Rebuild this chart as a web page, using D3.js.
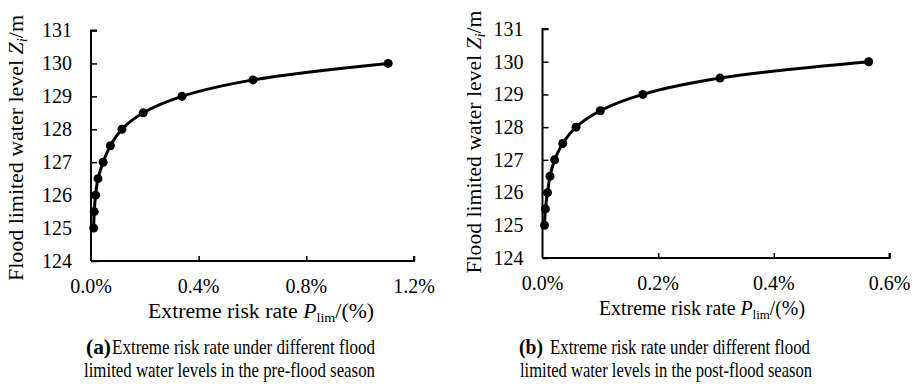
<!DOCTYPE html>
<html>
<head>
<meta charset="utf-8">
<script src="https://cdn.jsdelivr.net/npm/d3@7"></script>
</head>
<body style="margin:0; background:#fff">
<svg id="chart" width="918" height="384"></svg>
<script>
// flood limited water level (m)
const levels = [125, 125.5, 126, 126.5, 127, 127.5, 128, 128.5, 129, 129.5, 130];
// extreme risk rate, in %
const preRisk = [0.010, 0.012, 0.017, 0.026, 0.045, 0.072, 0.115, 0.194, 0.338, 0.602, 1.104];
const postRisk = [0.0035, 0.005, 0.0087, 0.013, 0.021, 0.035, 0.058, 0.100, 0.1735, 0.307, 0.564];
const yTicks = [124, 125, 126, 127, 128, 129, 130, 131];
const preTicks = [0, 0.4, 0.8, 1.2];
const postTicks = [0, 0.2, 0.4, 0.6];

const FONT = "Liberation Serif";

const panels = [
  { risk: preRisk, ticks: preTicks, x0: 91, x1: 414, y0: 261, y1: 30.5,
    yTitleX: 16, yTitleY: 148, yTitleLen: 266,
    xTitleX: 261, xTitleLen: 226, xTitleText: "Extreme risk rate  ",
    tag: "(a)", tagX: 86, tagLen: 25,
    cap1: "Extreme risk rate under different flood", cap1X: 112, cap1Len: 263,
    cap2: "limited water levels in the pre-flood season", cap2X: 84, cap2Len: 291 },
  { risk: postRisk, ticks: postTicks, x0: 542.5, x1: 889.5, y0: 258, y1: 29,
    yTitleX: 474, yTitleY: 142, yTitleLen: 263,
    xTitleX: 702, xTitleLen: 206, xTitleText: "Extreme risk rate ",
    tag: "(b)", tagX: 519, tagLen: 24,
    cap1: "Extreme risk rate under different flood", cap1X: 550, cap1Len: 260,
    cap2: "limited water levels in the post-flood season", cap2X: 520, cap2Len: 292 }
];

const svg = d3.select("#chart");

panels.forEach(p => {
  const data = levels.map((lv, i) => ({ level: lv, risk: p.risk[i] }));
  const x = d3.scaleLinear().domain([0, d3.max(p.ticks)]).range([p.x0, p.x1]);
  const y = d3.scaleLinear().domain([124, 131]).range([p.y0, p.y1]);
  const g = svg.append("g");

  // y axis, ticks pointing inside
  const ya = g.append("g")
    .attr("transform", `translate(${p.x0},0)`)
    .call(d3.axisRight(y).tickValues(yTicks).tickSize(6).tickFormat(""));
  ya.select(".domain").attr("stroke", "#000").attr("stroke-width", 2).attr("d", `M6,${p.y1}H0V${p.y0}`);
  ya.selectAll(".tick line").attr("stroke", "#000").attr("stroke-width", 1.5);
  g.append("g").selectAll("text").data(yTicks).join("text")
    .attr("font-family", FONT)
    .attr("x", p.x0 - 19).attr("y", d => y(d)).attr("dy", "0.34em")
    .attr("text-anchor", "end").attr("font-size", 20).text(d => d);

  // x axis, ticks pointing up
  const xa = g.append("g")
    .attr("transform", `translate(0,${p.y0})`)
    .call(d3.axisTop(x).tickValues(p.ticks.slice(1)).tickSize(5).tickFormat(""));
  xa.select(".domain").attr("stroke", "#000").attr("stroke-width", 2).attr("d", `M${p.x0},0H${p.x1}V-5`);
  xa.selectAll(".tick line").attr("stroke", "#000").attr("stroke-width", 1.5);
  g.append("g").selectAll("text").data(p.ticks).join("text")
    .attr("font-family", FONT)
    .attr("x", d => x(d)).attr("y", p.y0 + 32)
    .attr("text-anchor", "middle").attr("font-size", 20)
    .text(d => d3.format(".1f")(d) + "%");

  // curve and markers
  const line = d3.line().x(d => x(d.risk)).y(d => y(d.level)).curve(d3.curveCatmullRom.alpha(0.5));
  g.append("path").datum(data).attr("d", line)
    .attr("fill", "none").attr("stroke", "#000").attr("stroke-width", 3);
  g.selectAll("circle").data(data).join("circle")
    .attr("cx", d => x(d.risk)).attr("cy", d => y(d.level)).attr("r", 4.5).attr("fill", "#000");

  // y title
  const yt = g.append("text")
    .attr("font-family", FONT)
    .attr("transform", `translate(${p.yTitleX + 7},${p.yTitleY}) rotate(-90)`)
    .attr("text-anchor", "middle").attr("font-size", 21)
    .attr("textLength", p.yTitleLen).attr("lengthAdjust", "spacingAndGlyphs");
  yt.append("tspan").text("Flood limited water level ");
  yt.append("tspan").attr("font-style", "italic").text("Z");
  yt.append("tspan").attr("font-style", "italic").attr("font-size", 14).attr("dy", 4).text("i");
  yt.append("tspan").attr("dy", -4).text("/m");

  // x title
  const xt = g.append("text")
    .attr("font-family", FONT)
    .attr("x", p.xTitleX).attr("y", p.y0 + 57)
    .attr("text-anchor", "middle").attr("font-size", 20)
    .attr("textLength", p.xTitleLen).attr("lengthAdjust", "spacingAndGlyphs");
  xt.append("tspan").text(p.xTitleText);
  xt.append("tspan").attr("font-style", "italic").text("P");
  xt.append("tspan").attr("font-size", 13).attr("dy", 4).text("lim");
  xt.append("tspan").attr("dy", -4).text("/(%)");

  // caption, two lines
  g.append("text")
    .attr("font-family", FONT).attr("font-weight", "bold")
    .attr("x", p.tagX).attr("y", 354).attr("font-size", 21)
    .attr("textLength", p.tagLen).attr("lengthAdjust", "spacingAndGlyphs")
    .text(p.tag);
  g.append("text")
    .attr("font-family", FONT)
    .attr("x", p.cap1X).attr("y", 354).attr("font-size", 21)
    .attr("textLength", p.cap1Len).attr("lengthAdjust", "spacingAndGlyphs")
    .text(p.cap1);
  g.append("text")
    .attr("font-family", FONT)
    .attr("x", p.cap2X).attr("y", 377).attr("font-size", 21)
    .attr("textLength", p.cap2Len).attr("lengthAdjust", "spacingAndGlyphs")
    .text(p.cap2);
});
</script>
</body>
</html>
